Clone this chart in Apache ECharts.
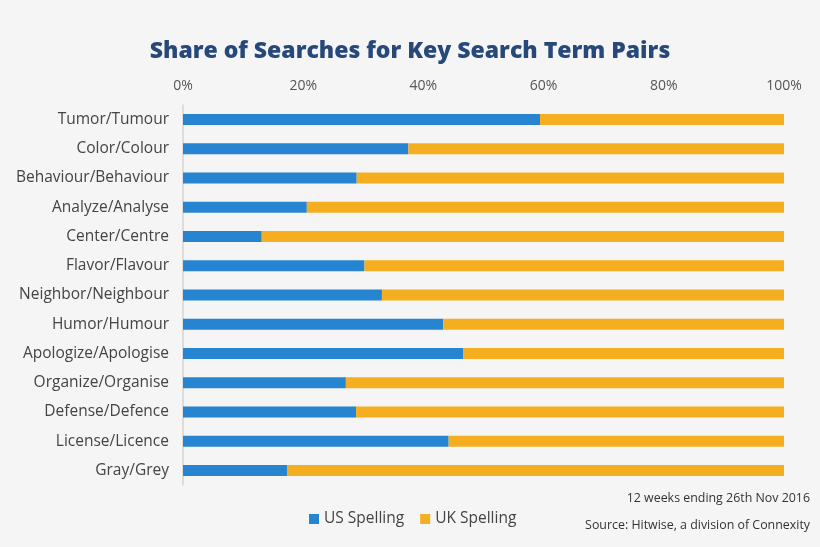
<!DOCTYPE html>
<html><head><meta charset="utf-8">
<script src="https://cdn.jsdelivr.net/npm/echarts@6/dist/echarts.min.js"></script>
<style>html,body{margin:0;padding:0;background:#f5f5f5;}#c{width:820px;height:547px;}</style>
</head><body><div id="c"></div>
<script>
const categories = ["Tumor/Tumour","Color/Colour","Behaviour/Behaviour","Analyze/Analyse","Center/Centre","Flavor/Flavour","Neighbor/Neighbour","Humor/Humour","Apologize/Apologise","Organize/Organise","Defense/Defence","License/Licence","Gray/Grey"];
const usSpelling = [59.4,37.5,28.9,20.6,13.1,30.2,33.1,43.3,46.6,27.1,28.8,44.2,17.3];
const ukSpelling = usSpelling.map(v => +(100 - v).toFixed(1));
const chart = echarts.init(document.getElementById('c'));
const font = "'Open Sans', sans-serif";
chart.setOption({
  backgroundColor: '#f5f5f5',
  animation: false,
  title: {text: 'Share of Searches for Key Search Term Pairs', left: 'center', top: 35,
    textStyle: {color: '#26487a', fontSize: 23, fontWeight: 800, fontFamily: font}},
  grid: {left: 183, right: 36, top: 105, bottom: 62},
  legend: {bottom: 15, left: 304, itemWidth: 10, itemHeight: 10, itemGap: 16, icon: 'rect',
    textStyle: {color: '#444', fontSize: 15.5, fontFamily: font}},
  graphic: [
    {type: 'text', right: 10, top: 492, style: {text: '12 weeks ending 26th Nov 2016', fill: '#333', fontSize: 12.4, fontFamily: font}},
    {type: 'text', right: 10, top: 519, style: {text: 'Source: Hitwise, a division of Connexity', fill: '#333', fontSize: 12.4, fontFamily: font}}
  ],
  xAxis: {type: 'value', position: 'top', min: 0, max: 100, interval: 20,
    axisLabel: {formatter: '{value}%', color: '#555', fontSize: 14, fontFamily: font, margin: 12},
    axisLine: {show: false}, axisTick: {show: false}, splitLine: {show: false}},
  yAxis: {type: 'category', data: categories, inverse: true,
    axisLine: {show: true, lineStyle: {color: '#d5d5d5', width: 1.5}}, axisTick: {show: false},
    axisLabel: {color: '#444', fontSize: 15.5, fontFamily: font, margin: 14}},
  series: [
    {name: 'US Spelling', type: 'bar', stack: 's', data: usSpelling, barWidth: 11, itemStyle: {color: '#2684d1'}},
    {name: 'UK Spelling', type: 'bar', stack: 's', data: ukSpelling, barWidth: 11, itemStyle: {color: '#f5ae1f'}}
  ]
});
</script></body></html>
